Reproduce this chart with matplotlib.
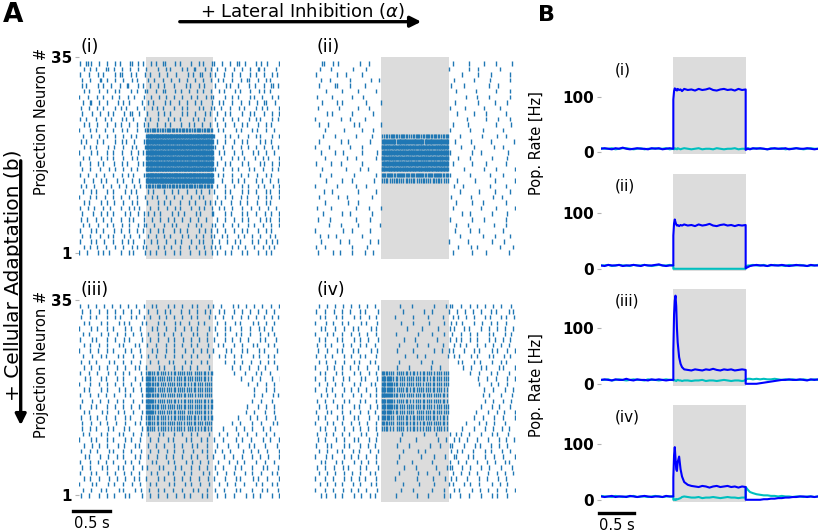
import numpy as np
import matplotlib.pyplot as plt
from matplotlib.patches import FancyArrowPatch
from matplotlib.lines import Line2D

# figure is laid out in pixel units of the 820x532 target
W, H = 820, 532


def fx(px):
    return px / W


def fy(py):
    return 1 - py / H


# ---- raster data -------------------------------------------------------
# one string per neuron, top row (#35) first; segments pre | stim | post (1 s each),
# one char per 50 ms bin: '.' none, a-e one spike early..late in the bin,
# digit = that many spikes spread over the bin
raster_i = [
    "b.2d..a.c.e.b..2.d.a|.c.a.2..d.b..c.e.a.d|b.d..a.2.c..e.b.a..c",
    ".d.b.a..2.c.e..b.d..|a..c.e.b..d.a.2..c.b|.a.d..b.c.e..2.a..d.",
    "c..a.d.b..e.2..c.a.d|.b.d..a.c..e.b.2..a|d..b.c..a.e.d..b.c.a",
    ".a.c..2.b.d..a.e.c..|d.b..a.c.e..b.d..a.c|.c.a.d..b.2..c.e.a..",
    "e.b..d.a.c..b.2..d.a|.a.d.b..c..e.a.d.b..|c..e.a.b..d.c..a.2.b",
    ".c.a.e..b.d.a..c.b.d|b..a.2..d.c.e..b.a.c|.d.b..c.a.e..d.b.a..",
    "a.d..c.b.e..a.d.c..b|.c.e..a.b.d..c.a.e.b|a..c.d.b..e.a.c..d.b",
    ".b.2..a.c..d.b.a..e.|c.a..d.b.e..a.c.b..d|.e.a.c..b.d..a.2..c.",
    "d..a.c.b..e.d.a..c.b|.d.b.a..c.e.b..d.a.c|b.c..a.d.b..e.c.a..d",
    ".a.e..b.d.a..c.2..a.|b..d.c.a..e.b.d..c.a|.b.d.a..c.e.b..a.d.c",
    "c.b..a.d.c..e.a.b..d|.a.c..d.b.a..e.c.b..|d..a.c.b..d.e.a..c.b",
    ".d.a.c..b.e.d..a.c.b|c..b.d.a..c.e.b.d..a|.a.c..b.d.a..c.e.b..",
    "a..c.b.d..a.e.c..b.d|22322232322322232232|.c.a..d.b..c.a.e..b.",
    ".b.d..a.c.e..b.d.a..|56565656565656565656|b..d.a.c..b.e.a..c.d",
    "d.a..c.b..d.e.a.c..b|65656565656565656565|.a.c..b.d.a..e.c.b..",
    ".c.b.a..d.c..b.e.a.d|66565665656656566565|c..a.d..b.c.e..a.d.b",
    "a..d.c..b.a.e..c.d.a|56656566565665656656|.d.b..a.c..e.b.d..a.",
    ".b.a..d.c.b..a.e.c..|65665656656566565665|a.c..d.b.a..c.e.b..d",
    "c..b.d.a..c.e.b..d.a|56565665656566565656|.b.d.a..c.b..e.a.c.d",
    ".a.c..b.e.d..a.c.b..|66565656565665656565|d..a.c.b..d.a.e..c.b",
    "b.d..a.c..b.e.d.a..c|56656565665656656566|.c.a.d..b.c..a.e.b..",
    ".c..b.d.a..c.b.e..a.|65656656565665656565|a.d..c.b.a..d.c.e..b",
    "d.a.c..b.d.e..a.c.b.|32232322322323223232|.b.c..a.d.b..c.a.e.d",
    ".b.d.a..c.b..e.d.a..|c.a..b.d.c..a.e.b.d.|b..d.a..c.b.e..d.a.c",
    "a..c.b.d..a.c.e..b.d|.d.b..a.c.e..b.d.a..|.a.c.d..b.a..c.e.b.d",
    ".c.a..d.b.c..a.e.b..|b..d.c.a..b.e.d..c.a|c.b..a.d.c..b.e.a..",
    "b.d.c..a.b..d.e.c.a.|.a.c..b.d.a..c.e.b.d|.d.a.c..b.d..a.c.e.",
    ".a..b.d.c.a..e.b.d.c|c.b.a..d.c.b..e.a..d|a..c.b..d.a.e..c.b.d",
    "d.c..a.b.d..c.e.a..b|.d..a.c.b.d..a.c.e..|.b.d..a.c.b..e.d.a.c",
    ".b.a.d..c.b.e..a.d.c|a.c..b.d.a..c.e.b..d|c..a.d.b..c.a.e..b.d",
    "c..d.b.a..c.d.e..b.a|.b.d.a..c.b.a..e.d.c|.a.c..b.d.a..c.e.b..",
    ".a.c..b.d.a..c.b.e..|d..a.c.b..d.c.e..a.b|b.d.a..c.b.d..a.e.c.",
    "b..d.a.c..b.e.d.a..c|.c.b..a.d.c..b.e.a.d|.d..b.c.a..d.b.e.c.a",
    ".d.b.c..a.d..b.e.c.a|a..d.b.c..a.d.e..b.c|c.a..d.b.c..a.e.d.b.",
    "a.c..d.b.a..c.e.b..d|.b.a.d..c.b..a.e.c.d|.a.c.b..d.a..c.e.b..",
]

raster_ii = [
    "..2..c.a.....d..b...|....................|.b...d....a..c...e.",
    ".d...a.....c...b....|....................|a....d..b.....c....",
    "c.....e..b....a.....|....................|...d....b...a....c.",
    "..a.d.....c.....e..b|....................|.c.....a...d.....b.",
    ".b....2...d....a....|....................|d...b......c..a....",
    "...c....a...e.....b.|....................|..a....d.....b...c.",
    "d....b.....a..c.....|....................|....e...a..c.....b.",
    "..b...d.a......c...e|....................|.d......b....a..c..",
    ".a.....c....e...b...|....................|b...d.....a...c....",
    "...d.b.....a.....c..|....................|..c....a..d.....b..",
    "b......e..c....a....|....................|.....b....d...a..c.",
    ".c..a......d.b.....e|....................|.a...c.......b...d.",
    "...b....d.....a..c..|....................|c.....a..d.....b...",
    "..d...a.....c....b..|22232232223223232223|...a.....c...d..b..",
    ".b.....e..a.....c...|44343444344434443444|.d....b.....a.....c",
    "a...c.....d...b.....|55454555454554545554|...c...a....d..b...",
    ".e....b.c.....a...d.|45545454554545545455|b.....c..a......d..",
    "...a.....d..b.....c.|54554545545455454545|..d...a.....b...c..",
    "c....a.e......b.....|45454554545455454554|.a....d...c.....b..",
    "..b......c...d..a...|54545455454545545454|....b.....a..c....d",
    ".d...a.....e......b.|33323333233332333323|c.....a....d...b...",
    "...c....b..a.....d..|22122212221222122212|..b....c.....a....d",
    "a.....d.....b..c....|....................|.c..a......d....b..",
    "..e..b.......a....c.|....................|...b....d....a...c.",
    ".c.....a.d.......b..|....................|d.....b.....c..a...",
    "...b.....e...a......|....................|..a...c..d......b..",
    "d....a......c...b..e|....................|.b.......a...c....d",
    "..c.....b.d......a..|....................|...d..a.....b...c..",
    ".a..d.......b...c...|....................|c.....d...a.....b..",
    "....b..e.....a.....c|....................|..a..c......d...b..",
    "b.......c..a....d...|....................|.d....a.c......b...",
    ".d..a.c.......b.....|....................|...b.....d...a...c.",
    "..a....d..b.....c.e.|....................|a....c......b..d...",
    "c..b.......a...d....|....................|..d...b.a.....c...a",
    ".a...c.d...b...a.c..|....................|.b....d...c......a.",
]

raster_iii = [
    "b.d..a.c.e..b.d..a.c|.d.a..c.b.e..d.a..c.|a.c..e.b.d..a.c..b.d",
    ".a.c.e..b.d..a.c.e..|c..b.d.a..c.e..b.d.a|.d.b..a.c.e..b.d..a.",
    "d..b.a..c.e.b..d.a.c|.b.e..a.c.d..b.a..e.|c..a.d..b.c.e..a.d.b",
    ".c.a..d.b..e.c.a..d.|a..c.b..d.a.e..c.b..|.b.d..c.a..e.b.d..a.",
    "a..d.c..b.a..e.c..b.|.e.b..a.d..c.b.a..d.|d..c.a..b.e..d.a.c..",
    ".b.a..c.d..b.e..a.c.|c..d.b..a.c..e.b..a.|.a.c..d.b..a.e..c.b.",
    "c..e.a..b.d..c.a..e.|.a.c..d.b..a.c.e..b.|b..d.c..a.b..e.c..d.",
    ".d.b..a.c..e.b..d.a.|b..a.e..c.d..b.a..c.|.c.a..b.d..e.a..c.b.",
    "a..c.d..b.a..e.c..b.|.d.b..a.c..d.e..b.a.|a..e.b..c.a..d.b..e.",
    ".b.e..c.a..d.b..a.c.|c..a.d..b.e..c.a..d.|.d.c..a.b..e.d..c.a.",
    "d..a.b..e.c..a.d..b.|.b.c..e.a..d.b..c.a.|...c..a.d..b.e..c.a.",
    ".c.d..a.b..c.e..d.a.|a..e.b..c.d..a.b..e.|.....c..a.d..b.c..e.",
    "b..a.c..d.e..b.a..c.|32121211212121121212|......a..c..d.b..a..",
    ".e.b..d.a..c.b..e.d.|42212121121212121211|........b..d..a..c.e",
    "a..c.e..b.d..a.c..b.|52221212121211212121|..........c..a.d..b.",
    ".d.a..c.b..e.d..a.c.|53212121212121212121|............b..d..a.",
    "c..b.d..a.c..e.b..d.|52221212121212112121|............a.c..e.b",
    ".a.e..b.d..c.a..b.e.|53212121211212121212|...........d..b..c..",
    "b..d.a..c.e..b.d..a.|42221212121212121212|..........a..c.e..b.",
    ".c.a..e.b..d.c..a.d.|43212121212112121211|.........d..a..c..b.",
    "d..b.c..a.e..d.b..c.|32121211212121211212|.......b..e..a.d..c.",
    ".a.d..b.c..a.e..d.b.|32121212121121212121|.....c..a..d..b..e.a",
    "e..c.a..d.b..c.a..e.|22111211121112111211|...a..d..b.c..e..a..",
    ".b.a..d.c..e.b..a.c.|c..e.a..b.d..c.a..e.|.d..b..c..a.e..d..b.",
    "a..d.b..c.a..e.d..b.|.b.c..d.a..e.b..c.a.|b..a..d.c..b..e..a.d",
    ".c.e..a.b..d.c..e.a.|d..a.b..c.e..d.a..b.|.a..c..b..d.a..c..e.",
    "d..b.c..e.a..b.d..c.|.a.d..b.c..a.e..d.b.|c.d..a..e..b.c..a..d",
    ".e.a..b.d..c.a..e.b.|c..b.e..a.d..c.b..a.|a..b.e..c..d..a.b..c",
    "b..c.d..a.b..e.c..a.|.d.a..c.b..e.d..a.c.|.c..d..a.b..e..c..a.",
    ".a.b..e.c..d.a..b.d.|b..e.a..d.c..b.e..a.|d..a..c.b..d..e.a..b",
    "c..d.a..b.e..c.d..a.|.c.b..d.a..c.b..e.d.|.b.e..a..c.d..b..c.a",
    ".d.c..a.e..b.d..c.a.|a..d.c..b.e..a.d..c.|b..c..d.a..e.b..a..d",
    "a..e.b..d.c..a.e..b.|.b.a..e.c..d.b..a.e.|.d..a.c..b..e.d..c.a",
    ".b.d..c.a..e.b..d.c.|e..c.b..a.d..e.c..b.|c..b..e.a..d..c.a..b",
    "d..a.e..b.c..d.a..e.|.a.d..b.e..c.a..d.b.|.a.c..b..d.e..a..c.d",
]

raster_iv = [
    ".b.d..a.c.e..b.d..a.|.....c...a.....d...b|ca.d..b.c.e..a.d..c.",
    "c..a.e..b.d..c.a..e.|......b.....d..a....|a.c.e..b.d..c.a..e.b",
    ".d.b..c.a..e.d..b.c.|....a....c...e....b.|.bd..a.c..e.b..d.a.c",
    "a..c.d..b.a..e.c..d.|.....d...b....a...c.|d.b.a..c.e..d.b..a..",
    ".e.a..b.d..c.a..e.b.|.......c....a...d...|bc..d.a..c.e..b.d..a",
    "b..d.c..a.e..b.d..c.|....b.....e....a..c.|.a.d..c.b..e.a..d.c.",
    ".c.a..e.b..d.c..a.e.|......d...a.....c...|c.ad..b.c..e.d..a.b.",
    "d..b.a..c.e..d.b..a.|.....a....c..e....b.|.d.b.a..c.e..b.d..a.",
    ".a.e..d.b..c.a..e.d.|....c....b.....d..a.|ab..c..d.a..e.b..c.d",
    "c..a.b..d.e..c.a..b.|......e...c..a.....d|.c.a..d.b..e.a..c.b.",
    ".b.c..a.d..e.b..c.a.|.....b.....d...a....|..d.a..c.b..e..d.a..",
    "a..d.e..b.c..a.d..e.|....c...a.....d..b..|....b.d..c.a..e.b..d",
    ".d.b..c.a..e.d..b.c.|32211212121121211212|......c..a..d.b..e..",
    "b..a.d..c.b..e.a..d.|43312121212121121212|........d..b..a..c.e",
    ".c.e..a.b..d.c..e.a.|43322121212112121212|.........a..c.d..b..",
    "a..c.b..d.e..a.c..b.|53321212121212121211|..........c..b..d..a",
    ".e.d..b.a..c.e..d.b.|54322121212121212121|..........b.a..c..e.",
    "d..a.c..e.b..d.a..c.|53321212112121212121|..........d..a..b.c.",
    ".b.c..d.a..e.b..c.d.|43322121212121211212|.........c..e..a..b.",
    "c..e.a..b.d..c.e..a.|43312121211212121212|........a..d..b.c..e",
    ".a.b..e.c..d.a..b.e.|33211212121212121121|.......d..b..c..a..e",
    "b..d.c..a.e..b.d..c.|32211212121121212121|.....b..e..a.c..d...",
    ".d.a..b.e..c.d..a.b.|22111211121112111211|....a..c..d..b.e..a.",
    "e..c.d..a.b..e.c..d.|......a.....d...b...|c.bd..a..c..e.b..d..",
    ".a.b..c.e..d.a..b.c.|.....c....b.....e..a|.d.a.c..b..d..e..a.c",
    "c..e.a..d.b..c.e..a.|....d...a.....c..b..|ba..c..e.b..d..a.c..",
    ".b.d..e.a..c.b..d.e.|......b...e..a......|d.c.a..b..d.c..e..b.",
    "a..c.b..d.e..a.c..b.|.....a.....d...c..e.|.ca..d.b..e..c..a..d",
    ".e.a..c.b..d.e..a.c.|....c....a....e.....|b.d..a..c..b.e..d.a.",
    "d..b.e..c.a..d.b..e.|......d...b.....a..c|ca.e..b..d..a..c..e.",
    ".c.d..a.e..b.c..d.a.|.....b....e..c...a..|.b.d..a.c..d..b.e..a",
    "b..a.c..d.e..b.a..c.|....a.....d....b..e.|d.a..c..e..b..d..a..",
    ".d.e..b.a..c.d..e.b.|......c....a...d....|ab..d.c..a..e..b.c..",
    "a..b.d..c.e..a.b..d.|.....d...b.....a..c.|.c.a..e..b.d..c..a.e",
    ".e.c..a.b..d.e..c.a.|....b.....c..e....d.|b..c..a..d..e.b..c..",
]

# ---- population rate data (Hz) -----------------------------------------
# sample times: coarse before, fine at onset/offset, coarse after
t_rate = np.concatenate([
    np.arange(0.0, 1.001, 0.05),
    [1.0, 1.01, 1.02, 1.03, 1.04, 1.05, 1.06, 1.08, 1.10, 1.12, 1.15],
    np.arange(1.2, 2.001, 0.05),
    [2.0, 2.03, 2.06, 2.10],
    np.arange(2.15, 3.001, 0.05),
])

rate_i_stim = ([6, 7, 6, 5, 7, 6, 8, 6, 5, 6, 7, 6, 6, 5, 7, 6, 7, 5, 6, 7, 6]
               + [95, 110, 115, 112, 113, 111, 114, 112, 113, 110, 114]
               + [112, 113, 111, 114, 112, 113, 115, 112, 111, 113, 114, 112, 113, 111, 114, 112, 113]
               + [4, 6, 5, 7]
               + [6, 7, 6, 5, 6, 7, 6, 6, 7, 5, 6, 7, 6, 6, 7, 6, 5, 6])
rate_i_other = ([7, 6, 6, 7, 5, 6, 7, 7, 6, 5, 6, 7, 5, 6, 6, 7, 6, 6, 7, 5, 6]
                + [6, 5, 7, 6, 6, 5, 7, 6, 5, 6, 7]
                + [6, 5, 6, 7, 5, 6, 6, 5, 7, 6, 5, 6, 6, 7, 5, 6, 6]
                + [6, 7, 6, 6]
                + [7, 6, 6, 5, 7, 6, 6, 7, 5, 6, 6, 7, 6, 5, 6, 7, 6, 6])

rate_ii_stim = ([6, 5, 7, 6, 6, 7, 5, 6, 6, 7, 6, 5, 7, 6, 6, 7, 8, 6, 5, 6, 6]
                + [60, 82, 89, 84, 80, 78, 79, 77, 79, 78, 80]
                + [78, 79, 77, 80, 78, 79, 81, 78, 77, 79, 80, 78, 79, 77, 79, 78, 79]
                + [1, 3, 5, 6]
                + [7, 6, 6, 5, 7, 6, 6, 7, 6, 5, 6, 7, 6, 6, 5, 7, 6, 6])
rate_ii_other = ([6, 6, 7, 5, 6, 7, 6, 6, 5, 7, 6, 6, 7, 6, 5, 6, 7, 6, 6, 7, 6]
                 + [0, 0, 0, 0, 0, 0, 0, 0, 0, 0, 0]
                 + [0, 0, 0, 0, 0, 0, 0, 0, 0, 0, 0, 0, 0, 0, 0, 0, 0]
                 + [4, 6, 6, 7]
                 + [6, 6, 7, 5, 6, 7, 6, 6, 5, 7, 6, 6, 7, 6, 5, 6, 6, 7])

rate_iii_stim = ([7, 8, 7, 6, 8, 7, 7, 9, 7, 6, 8, 7, 7, 6, 8, 7, 8, 7, 6, 7, 7]
                 + [60, 125, 150, 159, 140, 100, 75, 48, 36, 30, 26]
                 + [25, 24, 26, 25, 24, 26, 25, 27, 25, 24, 26, 25, 26, 24, 25, 26, 25]
                 + [0, 0, 0, 0]
                 + [0, 1, 2, 3, 4, 5, 6, 7, 7, 8, 7, 7, 8, 7, 6, 8, 7, 8])
rate_iii_other = ([7, 7, 8, 6, 7, 8, 7, 6, 7, 8, 7, 7, 6, 8, 7, 7, 6, 7, 8, 7, 7]
                  + [6, 7, 6, 6, 5, 6, 7, 6, 6, 5, 6]
                  + [6, 5, 6, 6, 7, 5, 6, 6, 5, 6, 7, 6, 5, 6, 6, 5, 6]
                  + [8, 9, 9, 8]
                  + [9, 8, 9, 8, 8, 9, 8, 7, 8, 7, 8, 7, 7, 8, 7, 7, 8, 7])

rate_iv_stim = ([6, 5, 6, 7, 5, 6, 6, 5, 7, 6, 5, 6, 7, 6, 5, 6, 6, 5, 7, 6, 6]
                + [40, 80, 95, 75, 55, 52, 68, 78, 55, 42, 32]
                + [27, 25, 24, 23, 25, 24, 22, 24, 25, 23, 24, 25, 23, 24, 22, 24, 23]
                + [0, 0, 0, 0]
                + [0, 0, 1, 1, 2, 2, 3, 3, 4, 4, 5, 5, 6, 6, 5, 6, 5, 6])
rate_iv_other = ([7, 6, 6, 5, 7, 6, 5, 6, 6, 7, 5, 6, 6, 5, 6, 7, 6, 5, 6, 6, 6]
                 + [0, 0, 0, 1, 0, 1, 1, 2, 3, 5, 6]
                 + [5, 4, 4, 5, 3, 4, 4, 5, 4, 3, 4, 5, 4, 4, 3, 4, 4]
                 + [23, 18, 14, 12]
                 + [10, 9, 8, 8, 7, 7, 6, 7, 6, 6, 5, 6, 6, 5, 6, 6, 5, 6])

panel_names = ["(i)", "(ii)", "(iii)", "(iv)"]
rasters = [raster_i, raster_ii, raster_iii, raster_iv]
rates = [(rate_i_stim, rate_i_other), (rate_ii_stim, rate_ii_other),
         (rate_iii_stim, rate_iii_other), (rate_iv_stim, rate_iv_other)]

SPIKE_COL = "#1f77b4"
SHADE = "#dcdcdc"
SUB_POS = {"a": 0.1, "b": 0.3, "c": 0.5, "d": 0.7, "e": 0.9}


def spike_times(row):
    times = []
    for seg_i, seg in enumerate(row.split("|")):
        nb = len(seg)
        for b, c in enumerate(seg):
            if c == ".":
                continue
            if c in SUB_POS:
                times.append(seg_i + (b + SUB_POS[c]) / nb)
                continue
            n = int(c)
            for k in range(n):
                times.append(seg_i + (b + (k + 0.5) / n) / nb)
    return np.array(times)


fig = plt.figure(figsize=(8.2, 5.32), dpi=100)

# ---- A: rasters --------------------------------------------------------
a_left = [78.7, 314.3]
a_top = [57.3, 300.0]
a_w, a_h = 201.5, 201.5
for i, (name, rows) in enumerate(zip(panel_names, rasters)):
    col, rw = i % 2, i // 2
    x0, y0 = a_left[col], a_top[rw]
    ax = fig.add_axes([fx(x0), fy(y0 + a_h), a_w / W, a_h / H])
    n = len(rows)
    trains = [spike_times(r) for r in rows]
    offsets = [n - j for j in range(n)]
    ax.axvspan(1, 2, color=SHADE, lw=0, zorder=0)
    ax.eventplot(trains, lineoffsets=offsets, linelengths=0.8,
                 linewidths=1.0, colors=SPIKE_COL, zorder=2)
    ax.set_xlim(0, 3)
    ax.set_ylim(-0.1, 36.1)
    ax.set_xticks([])
    if col == 0:
        ax.set_yticks([1, 36.1])
        ax.set_yticklabels(["1", "35"], fontsize=11, fontweight="bold")
        ax.tick_params(axis="y", length=3, width=0.8, color="0.7", pad=2)
    else:
        ax.set_yticks([])
    for s in ax.spines.values():
        s.set_visible(False)
    fig.text(fx(x0 + 2), fy(y0 - 1), name, fontsize=12.5, ha="left", va="bottom")

fig.text(fx(42), fy(121), "Projection Neuron #", rotation=90, fontsize=10.5,
         ha="center", va="center")
fig.text(fx(42), fy(364), "Projection Neuron #", rotation=90, fontsize=10.5,
         ha="center", va="center")

# ---- B: population rates -----------------------------------------------
b_tops = [57.3, 174.0, 289.0, 405.0]
b_x0, b_w, b_h = 601.0, 217.0, 97.0
for i, (name, (r_stim, r_other)) in enumerate(zip(panel_names, rates)):
    y0 = b_tops[i]
    ax = fig.add_axes([fx(b_x0), fy(y0 + b_h), b_w / W, b_h / H])
    ax.axvspan(1, 2, color=SHADE, lw=0, zorder=0)
    ax.plot(t_rate, r_other, color="c", lw=1.5, zorder=2)
    ax.plot(t_rate, r_stim, color="b", lw=1.5, zorder=3)
    ax.set_xlim(0, 3)
    ax.set_ylim(-4, 171)
    ax.set_xticks([])
    ax.set_yticks([0, 100])
    ax.set_yticklabels(["0", "100"], fontsize=11, fontweight="bold")
    ax.tick_params(axis="y", length=3, width=0.8, color="0.7", pad=2)
    for s in ax.spines.values():
        s.set_visible(False)
    ax.text(0.065, 0.95, name, transform=ax.transAxes, fontsize=11,
            ha="left", va="top")

fig.text(fx(536), fy(143), "Pop. Rate [Hz]", rotation=90, fontsize=10.5,
         ha="center", va="center")
fig.text(fx(536), fy(385), "Pop. Rate [Hz]", rotation=90, fontsize=10.5,
         ha="center", va="center")

# ---- panel letters, arrows, scale bars ---------------------------------
fig.text(fx(3), fy(2), "A", fontsize=19, fontweight="bold", ha="left", va="top")
fig.text(fx(538), fy(5), "B", fontsize=16, fontweight="bold", ha="left", va="top")

fig.text(fx(303), fy(17), r"+ Lateral Inhibition ($\alpha$)", fontsize=13,
         ha="center", va="baseline")
fig.patches.append(FancyArrowPatch((fx(177), fy(21.7)), (fx(424), fy(21.7)),
                                   transform=fig.transFigure, arrowstyle="-|>",
                                   mutation_scale=16, lw=2.4, color="black"))

fig.text(fx(23), fy(275), "+ Cellular Adaptation (b)", rotation=90, fontsize=14.5,
         ha="right", va="center")
fig.patches.append(FancyArrowPatch((fx(20.7), fy(158)), (fx(20.7), fy(428)),
                                   transform=fig.transFigure, arrowstyle="-|>",
                                   mutation_scale=16, lw=2.4, color="black"))

fig.add_artist(Line2D([fx(73), fx(110)], [fy(511), fy(511)], color="black", lw=2.4))
fig.text(fx(91.5), fy(523), "0.5 s", fontsize=10.5, ha="center", va="center")
fig.add_artist(Line2D([fx(599), fx(634)], [fy(513), fy(513)], color="black", lw=2.4))
fig.text(fx(617), fy(525), "0.5 s", fontsize=10.5, ha="center", va="center")

fig.savefig("out.png", dpi=100)
